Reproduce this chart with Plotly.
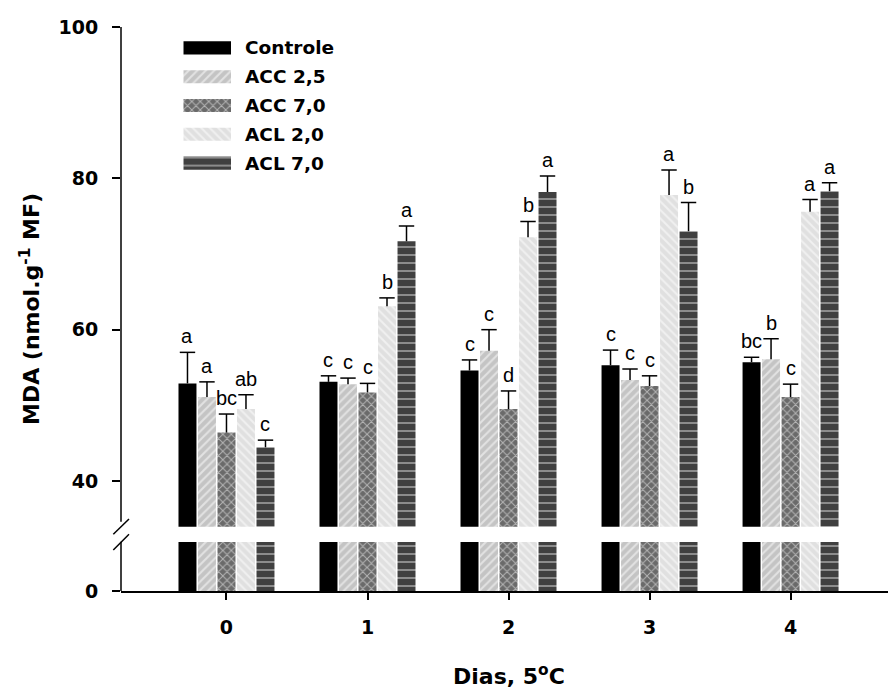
import plotly.graph_objects as go

# ---------------- data ----------------
days = [0, 1, 2, 3, 4]
series = ["Controle", "ACC 2,5", "ACC 7,0", "ACL 2,0", "ACL 7,0"]

controle = [52.9, 53.1, 54.6, 55.3, 55.7]
controle_err = [4.1, 0.8, 1.4, 2.0, 0.65]
controle_lbl = ["a", "c", "c", "c", "bc"]

acc25 = [51.1, 52.8, 57.2, 53.35, 56.1]
acc25_err = [2.0, 0.8, 2.8, 1.45, 2.7]
acc25_lbl = ["a", "c", "c", "c", "b"]

acc70 = [46.4, 51.7, 49.5, 52.55, 51.1]
acc70_err = [2.45, 1.2, 2.4, 1.35, 1.7]
acc70_lbl = ["bc", "c", "d", "c", "c"]

acl20 = [49.5, 63.1, 72.2, 77.8, 75.6]
acl20_err = [1.9, 1.1, 2.1, 3.3, 1.6]
acl20_lbl = ["ab", "b", "b", "a", "a"]

acl70 = [44.45, 71.7, 78.2, 73.0, 78.3]
acl70_err = [0.95, 2.0, 2.1, 3.8, 1.1]
acl70_lbl = ["c", "a", "a", "b", "a"]

values = [controle, acc25, acc70, acl20, acl70]
errors = [controle_err, acc25_err, acc70_err, acl20_err, acl70_err]
letters = [controle_lbl, acc25_lbl, acc70_lbl, acl20_lbl, acl70_lbl]

upper_ticks = [40, 60, 80, 100]
lower_ticks = [0]

# ---------------- styles ----------------
styles = [
    dict(color="#000000", pattern=dict(shape="")),
    dict(color="#c4c4c4", pattern=dict(shape="/", fgcolor="white", bgcolor="#c4c4c4", size=6, solidity=0.35)),
    dict(color="#6a6a6a", pattern=dict(shape="x", fgcolor="white", bgcolor="#6a6a6a", size=6, solidity=0.3)),
    dict(color="#e0e0e0", pattern=dict(shape="\\", fgcolor="white", bgcolor="#e0e0e0", size=6, solidity=0.35)),
    dict(color="#404040", pattern=dict(shape="-", fgcolor="white", bgcolor="#404040", size=8, solidity=0.2)),
]

W, H = 888, 690
ML, MR, MT, MB = 121, 0, 27, 99
PW, PH = W - ML - MR, H - MT - MB


def px_x(px):
    return (px - ML) / PW


def px_y(py):
    return (H - MB - py) / PH


slot = 0.1383
bar_w = 0.1275

BOLD = "DejaVu Sans"
fig = go.Figure()

for i, name in enumerate(series):
    xs = [d + (i - 2) * slot for d in days]
    st = styles[i]
    for ya in ["y", "y2"]:
        fig.add_trace(go.Bar(
            x=xs, y=values[i], width=bar_w, xaxis="x", yaxis=ya,
            marker=dict(color=st["color"], pattern=st["pattern"], line=dict(width=0)),
            showlegend=False, hoverinfo="skip",
        ))
    tops = [v + e for v, e in zip(values[i], errors[i])]
    fig.add_trace(go.Scatter(
        x=xs, y=tops, xaxis="x", yaxis="y", mode="markers",
        marker=dict(symbol="line-ew", size=11, color="black", line=dict(width=1.5, color="black")),
        error_y=dict(type="data", symmetric=False, array=[0] * len(days), arrayminus=errors[i],
                     width=0, thickness=1.5, color="black"),
        showlegend=False, hoverinfo="skip",
    ))
    for x, t, lb in zip(xs, tops, letters[i]):
        fig.add_annotation(x=x, y=t, xref="x", yref="y", text=lb, showarrow=False,
                           yanchor="bottom", yshift=3,
                           font=dict(family="Liberation Sans", size=20, color="black"))

# legend built as horizontal bars on a small axis pair
for i, name in enumerate(series):
    st = styles[i]
    fig.add_trace(go.Bar(
        x=[1], y=[name], orientation="h", width=0.46, xaxis="x2", yaxis="y3",
        marker=dict(color=st["color"], pattern=st["pattern"], line=dict(width=0)),
        showlegend=False, hoverinfo="skip",
    ))

tickfont = dict(family=BOLD, size=19, color="black", weight="bold")

fig.update_layout(
    width=W, height=H,
    margin=dict(l=ML, r=MR, t=MT, b=MB),
    paper_bgcolor="white", plot_bgcolor="white",
    barmode="overlay",
    showlegend=False,
    xaxis=dict(domain=[0, 1], anchor="y2", range=[-0.748, 4.691],
               tickvals=days, ticktext=[str(d) for d in days],
               ticks="outside", ticklen=7, tickwidth=1.5, tickcolor="black",
               showline=True, linewidth=2, linecolor="black",
               showgrid=False, zeroline=False, tickfont=tickfont, ticklabelstandoff=11),
    yaxis=dict(domain=[px_y(526.7), 1], anchor="x", range=[33.96, 100],
               tickvals=upper_ticks, ticks="outside", ticklen=8, tickwidth=1.5, tickcolor="black",
               showline=False, showgrid=False, zeroline=False, tickfont=tickfont,
               ticklabelstandoff=10),
    yaxis2=dict(domain=[0, px_y(542)], anchor="x", range=[0, 6.4],
                tickvals=lower_ticks, ticks="outside", ticklen=8, tickwidth=1.5, tickcolor="black",
                showline=False, showgrid=False, zeroline=False, tickfont=tickfont,
                ticklabelstandoff=10),
    xaxis2=dict(domain=[px_x(183.3), px_x(231)], anchor="y3", range=[0, 1], visible=False),
    yaxis3=dict(domain=[px_y(177.4), px_y(33.6)], anchor="x2", type="category",
                categoryorder="array", categoryarray=series[::-1], range=[-0.5, 4.5],
                side="right", ticks="", showline=False, showgrid=False, zeroline=False,
                tickfont=dict(family=BOLD, size=18.5, color="black", weight="bold"),
                ticklabelstandoff=13),
)

# axis lines with break marks
ax_x = px_x(ML)
line = dict(color="black", width=1.5)
fig.add_shape(type="line", xref="paper", yref="paper", x0=ax_x, x1=ax_x,
              y0=px_y(521.7), y1=px_y(27), line=line)
fig.add_shape(type="line", xref="paper", yref="paper", x0=ax_x, x1=ax_x,
              y0=px_y(591), y1=px_y(541.7), line=line)
fig.add_shape(type="line", xref="paper", yref="paper", x0=px_x(113.3), x1=px_x(129),
              y0=px_y(534.3), y1=px_y(519), line=line)
fig.add_shape(type="line", xref="paper", yref="paper", x0=px_x(113.3), x1=px_x(129),
              y0=px_y(550), y1=px_y(534.3), line=line)

# axis titles
fig.add_annotation(x=px_x(30), y=0.5, xref="paper", yref="paper",
                   text="MDA (nmol.g<sup>-1</sup> MF)", textangle=-90, showarrow=False,
                   xanchor="center", yanchor="middle",
                   font=dict(family=BOLD, size=22, color="black", weight="bold"))
fig.add_annotation(x=2, y=px_y(675), xref="x", yref="paper",
                   text="Dias, 5<sup>o</sup>C", showarrow=False,
                   xanchor="center", yanchor="middle",
                   font=dict(family=BOLD, size=22, color="black", weight="bold"))

fig.write_html("out.html")
